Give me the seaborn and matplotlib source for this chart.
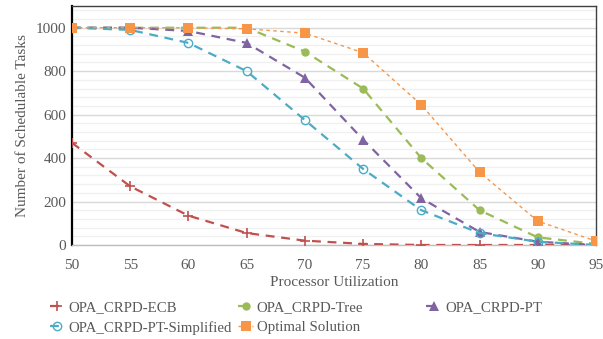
import matplotlib
matplotlib.use("Agg")
import matplotlib.pyplot as plt
import pandas as pd
import seaborn as sns
from matplotlib.ticker import MultipleLocator

# dati
utilization = [50, 55, 60, 65, 70, 75, 80, 85, 90, 95]
ecb = [470, 270, 135, 55, 20, 5, 0, 0, 0, 0]
tree = [1000, 1000, 1000, 1000, 890, 720, 400, 160, 35, 5]
pt = [1000, 1000, 985, 930, 770, 485, 215, 60, 15, 0]
pt_simplified = [1000, 990, 930, 800, 575, 350, 160, 55, 15, 0]
optimal = [1000, 1000, 1000, 995, 975, 885, 645, 335, 110, 18]

series_names = ["OPA_CRPD-ECB", "OPA_CRPD-Tree", "OPA_CRPD-PT",
                "OPA_CRPD-PT-Simplified", "Optimal Solution"]
series_values = [ecb, tree, pt, pt_simplified, optimal]

sns.set_theme(style="white")
plt.rcParams['font.family'] = ['Liberation Serif', 'DejaVu Serif']

text_color = '#595959'

# stile per ogni serie
styles = {
    "OPA_CRPD-ECB": dict(color='#c0504d', marker='+', ms=7, mew=1.2, mfc='#c0504d', lw=1.6, dashes=(4, 3)),
    "OPA_CRPD-Tree": dict(color='#9bbb59', marker='o', ms=6, mew=0, mfc='#9bbb59', lw=1.6, dashes=(4, 3)),
    "OPA_CRPD-PT": dict(color='#8064a2', marker='^', ms=7, mew=0, mfc='#8064a2', lw=1.6, dashes=(4, 3)),
    "OPA_CRPD-PT-Simplified": dict(color='#4bacc6', marker='o', ms=6, mew=1.0, mfc='none', lw=1.6, dashes=(4, 3)),
    "Optimal Solution": dict(color='#f79646', marker='s', ms=7.5, mew=0, mfc='#f79646', lw=1.0, dashes=(2.5, 2.5)),
}

fig = plt.figure(figsize=(6.03, 3.39), dpi=100)
ax = fig.add_axes([0.1194, 0.2773, 0.8690, 0.7050])

df = pd.DataFrame({"Utilization": utilization})
for name, vals in zip(series_names, series_values):
    df[name] = vals

handles = {}
for name in series_names:
    st = styles[name]
    sns.lineplot(data=df, x="Utilization", y=name, ax=ax, color=st['color'],
                 linewidth=st['lw'], dashes=False, label=name, zorder=3)
    line = ax.lines[-1]
    line.set_dashes(st['dashes'])
    line.set_marker(st['marker'])
    line.set_markersize(st['ms'])
    line.set_markeredgewidth(st['mew'])
    line.set_markeredgecolor(st['color'])
    line.set_markerfacecolor(st['mfc'])
    handles[name] = line
if ax.get_legend():
    ax.get_legend().remove()

ax.set_xlim(50, 95)
ax.set_ylim(0, 1100)
ax.set_xticks(utilization)
ax.set_yticks([0, 200, 400, 600, 800, 1000])
ax.yaxis.set_minor_locator(MultipleLocator(40))
ax.grid(axis='y', which='major', color='#d9d9d9', linewidth=1.0, zorder=0)
ax.grid(axis='y', which='minor', color='#f0f0f0', linewidth=1.0, zorder=0)
ax.tick_params(axis='both', which='both', length=0, labelsize=11, labelcolor=text_color)
ax.tick_params(axis='x', pad=10)
ax.tick_params(axis='y', pad=4)

for side in ['top', 'right']:
    ax.spines[side].set_color('#404040')
    ax.spines[side].set_linewidth(1.0)
ax.spines['left'].set_color('black')
ax.spines['left'].set_linewidth(1.6)
ax.spines['bottom'].set_color('#bfbfbf')
ax.spines['bottom'].set_linewidth(1.0)

ax.set_xlabel("Processor Utilization", fontsize=11, color=text_color, labelpad=3)
ax.set_ylabel("Number of Schedulable Tasks", fontsize=11, color=text_color, labelpad=5)

# legenda a colonne posizionate come nell'originale
columns = [(0.083, ["OPA_CRPD-ECB", "OPA_CRPD-PT-Simplified"]),
           (0.395, ["OPA_CRPD-Tree", "Optimal Solution"]),
           (0.707, ["OPA_CRPD-PT"])]
for x0, names in columns:
    leg = fig.legend([handles[n] for n in names], names, loc='upper left',
                     bbox_to_anchor=(x0, 0.113), frameon=False,
                     fontsize=10.7, handlelength=1.0, handletextpad=0.25,
                     labelspacing=0.45, borderaxespad=0, borderpad=0)
    for t in leg.get_texts():
        t.set_color(text_color)

fig.savefig("out.png", dpi=100)
